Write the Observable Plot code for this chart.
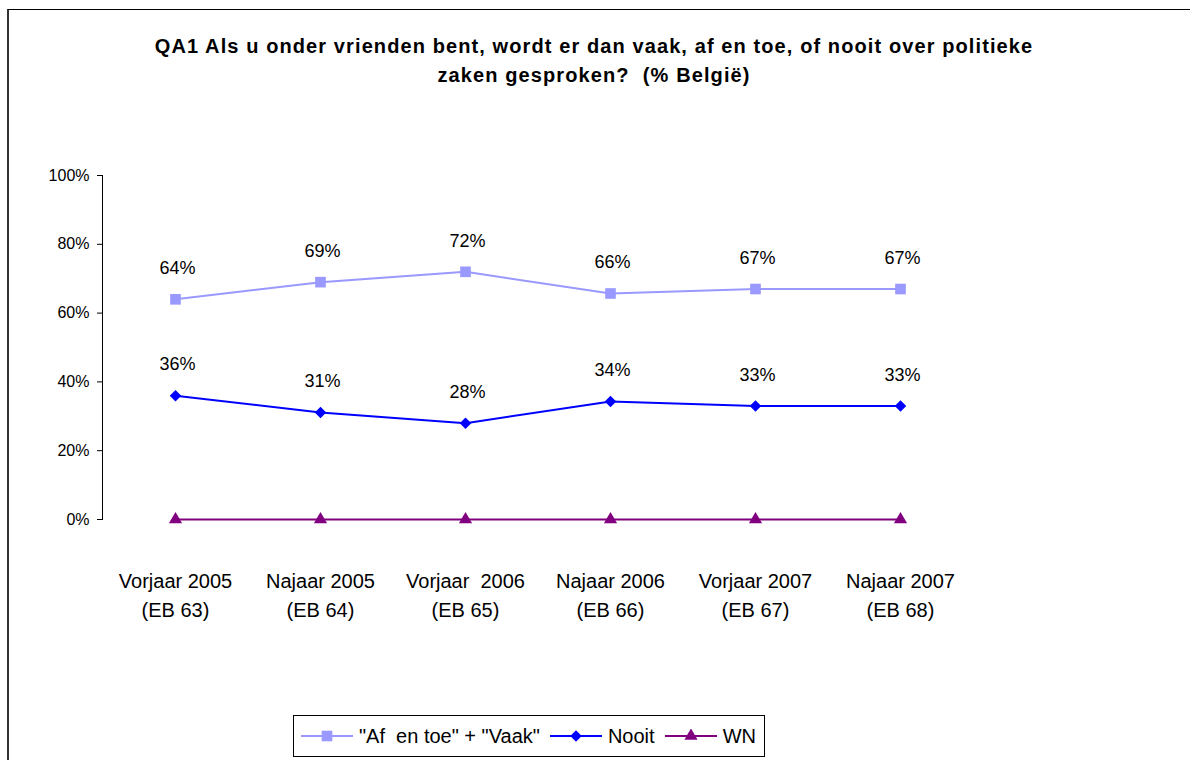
<!DOCTYPE html>
<html>
<head>
<meta charset="utf-8">
<script src="https://cdn.jsdelivr.net/npm/d3@7"></script>
<script src="https://cdn.jsdelivr.net/npm/@observablehq/plot@0.6"></script>
<style>
  body { margin: 0; background: #fff; font-family: "Liberation Sans", Arial, sans-serif; }
  #wrap { position: relative; width: 1190px; height: 760px; overflow: hidden; }
  #frame { position: absolute; left: 7px; top: 9px; width: 1300px; height: 900px; border-top: 1px solid #000; border-left: 2px solid #333; }
  #title { position: absolute; left: 0; width: 1188px; top: 32px; text-align: center; font-weight: bold; font-size: 20px; letter-spacing: 1.1px; line-height: 29px; color: #000; white-space: pre; }
  #chart { position: absolute; left: 0; top: 0; }
  #legend { position: absolute; left: 293px; top: 715px; width: 470px; height: 40px; border: 1px solid #000; display: flex; align-items: center; font-size: 20px; color: #000; }
  #legend .item { display: flex; align-items: center; margin-left: 10px; }
  #legend .item:first-child { margin-left: 7px; }
  #legend .item span { margin-left: 6px; white-space: pre; }
</style>
</head>
<body>
<div id="wrap">
  <div id="frame"></div>
  <div id="title"></div>
  <div id="chart"></div>
  <div id="legend"></div>
</div>
<script>
const titleLines = ["QA1 Als u onder vrienden bent, wordt er dan vaak, af en toe, of nooit over politieke", "zaken gesproken?  (% België)"];
const periods = ["Vorjaar 2005", "Najaar 2005", "Vorjaar  2006", "Najaar 2006", "Vorjaar 2007", "Najaar 2007"];
const waves = ["(EB 63)", "(EB 64)", "(EB 65)", "(EB 66)", "(EB 67)", "(EB 68)"];
const seriesNames = ["\"Af  en toe\" + \"Vaak\"", "Nooit", "WN"];
const afEnToeVaak = [0.64, 0.69, 0.72, 0.657, 0.67, 0.67];
const nooit = [0.36, 0.311, 0.28, 0.343, 0.33, 0.33];
const wn = [0, 0, 0, 0, 0, 0];
const yTicks = [0, 0.2, 0.4, 0.6, 0.8, 1.0];
const colors = ["#9999FF", "#0000FF", "#800080"];
const symbols = ["square", "diamond2", "triangle"];
const radii = [6, 5.2, 4.9];

document.getElementById("title").textContent = titleLines.join("\n");

const seriesValues = [afEnToeVaak, nooit, wn];
const rows = [];
seriesValues.forEach((vals, s) => vals.forEach((v, i) => rows.push({series: seriesNames[s], period: periods[i], value: v})));

const marks = [
  Plot.frame({anchor: "left", stroke: "#000"}),
  Plot.axisY({ticks: yTicks, tickFormat: d3.format(".0%"), tickSize: 5, tickPadding: 8, fontSize: 16, label: null, stroke: "#000"}),
  Plot.axisX({tickSize: 0, tickPadding: 54, fontSize: 20, label: null, tickFormat: d => d}),
  Plot.axisX({tickSize: 0, tickPadding: 83, fontSize: 20, label: null, tickFormat: d => waves[periods.indexOf(d)]})
];
seriesNames.forEach((name, s) => {
  const data = rows.filter(r => r.series === name);
  marks.push(Plot.line(data, {x: "period", y: "value", stroke: colors[s], strokeWidth: 2}));
  marks.push(Plot.dot(data, {x: "period", y: "value", symbol: symbols[s], fill: colors[s], r: radii[s], stroke: "none"}));
  if (s < 2) marks.push(Plot.text(data, {x: "period", y: "value", text: d => d3.format(".0%")(d.value), dy: -31, dx: 2, fontSize: 18, fill: "#000"}));
});

const chart = Plot.plot({
  width: 1190,
  height: 760,
  marginLeft: 102,
  marginRight: 217,
  marginTop: 175,
  marginBottom: 241,
  style: {fontFamily: "'Liberation Sans', Arial, sans-serif", color: "#000", background: "transparent"},
  x: {type: "point", domain: periods, padding: 0.5, axis: null},
  y: {domain: [0, 1], axis: null},
  marks
});
document.getElementById("chart").appendChild(chart);

const legend = document.getElementById("legend");
const symTypes = [d3.symbolSquare, d3.symbolDiamond2, d3.symbolTriangle];
seriesNames.forEach((name, s) => {
  const item = document.createElement("div");
  item.className = "item";
  const sw = d3.create("svg").attr("width", 52).attr("height", 14);
  sw.append("line").attr("x1", 0).attr("x2", 52).attr("y1", 7).attr("y2", 7).attr("stroke", colors[s]).attr("stroke-width", 2);
  sw.append("path").attr("transform", "translate(26,7)").attr("d", d3.symbol(symTypes[s], radii[s] * radii[s] * Math.PI)()).attr("fill", colors[s]);
  item.appendChild(sw.node());
  const label = document.createElement("span");
  label.textContent = name;
  item.appendChild(label);
  legend.appendChild(item);
});
</script>
</body>
</html>
